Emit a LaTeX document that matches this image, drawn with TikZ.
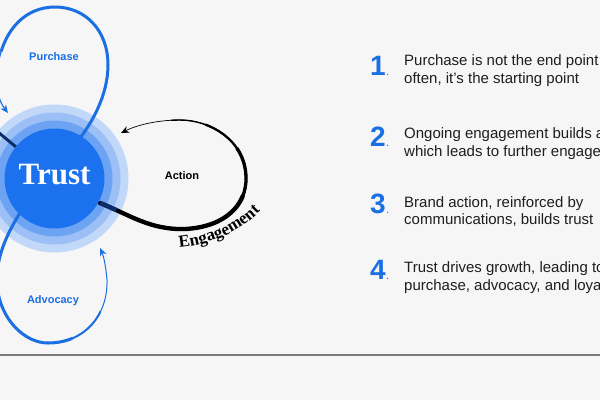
\documentclass[tikz,border=0pt]{standalone}
\usepackage{fontspec}
\setmainfont{Liberation Sans}
\newfontfamily\serifb{Liberation Serif}
\usetikzlibrary{arrows.meta,decorations.text}
\definecolor{bg}{HTML}{F6F6F6}
\definecolor{core}{HTML}{1C71EF}
\definecolor{ringA}{HTML}{C2D8F9}
\definecolor{ringB}{HTML}{9CC0F6}
\definecolor{ringC}{HTML}{6CA3F3}
\definecolor{lblue}{HTML}{1A6FE3}
\definecolor{navy}{HTML}{0C2D6B}
\definecolor{txtc}{HTML}{1E1E1E}
\definecolor{rulec}{HTML}{7A7A7A}
\tikzset{
  num/.style={text=lblue, font=\fontsize{28}{28}\selectfont\bfseries, inner sep=0pt, anchor=base west},
  numdot/.style={text=lblue, font=\fontsize{11}{11}\selectfont, inner sep=0pt, anchor=base west},
  body/.style={text=txtc, font=\fontsize{15}{18}\selectfont, inner sep=0pt, anchor=base west},
  lbl/.style={text=lblue, font=\fontsize{11}{11}\selectfont\bfseries, inner sep=0pt, anchor=base},
  rl/.style={line cap=round, line join=round},
  upto/.style={dash pattern=on #1pt off 2000pt},
  btip/.style={-{Stealth[length=8pt,width=7pt]}},
}
\newcommand{\actionpath}{(100,203) .. controls (130,215) and (150,230) .. (185,229)
  .. controls (225,227) and (247,205) .. (246,177)
  .. controls (245,140) and (210,120) .. (180,120)
  .. controls (155,120) and (135,126) .. (121,133)}
\newcommand{\advopath}{(25,205) .. controls (10,228) and (-5,255) .. (-3,285)
  .. controls (0,320) and (25,343) .. (48,343)
  .. controls (85,343) and (108,315) .. (107,280)
  .. controls (106,268) and (104,257) .. (100,248)}
\newcommand{\purchpath}{(72,148) .. controls (92,125) and (108,95) .. (108,65)
  .. controls (108,30) and (85,7) .. (55,7)
  .. controls (25,7) and (5,30) .. (-1,60)
  .. controls (-6,85) and (-2,100) .. (8,113)}
\begin{document}
\begin{tikzpicture}[x=1pt,y=-1pt]
\fill[bg] (0,0) rectangle (600,400);
\useasboundingbox (0,0) rectangle (600,400);
\clip (0,0) rectangle (600,400);

% rings
\coordinate (c) at (54.5,178.5);
\fill[ringA] (c) circle[radius=74pt];
\fill[ringB] (c) circle[radius=66pt];
\fill[ringC] (c) circle[radius=58pt];

% purchase loop
\draw[lblue, rl, line width=1.2pt, btip] \purchpath;
\draw[lblue, rl, line width=3pt, upto=255] \purchpath;

% advocacy loop
\draw[lblue, rl, line width=1pt, btip] \advopath;
\draw[lblue, rl, line width=2pt, upto=235] \advopath;
\draw[lblue, rl, line width=3pt, upto=195] \advopath;

% left dark stub
\draw[navy, line width=3pt] (-2,132) -- (16,147);

% action loop
\draw[black, rl, line width=0.7pt, btip] \actionpath;
\draw[black, rl, line width=1.4pt, upto=285] \actionpath;
\draw[black, rl, line width=2.3pt, upto=250] \actionpath;
\draw[black, rl, line width=3.3pt, upto=210] \actionpath;
\draw[black, rl, line width=4.3pt, upto=160] \actionpath;
\draw[navy, line width=4.3pt, upto=18] \actionpath;

% core
\fill[core] (c) circle[radius=50pt];
\node[font=\serifb\bfseries\fontsize{31}{31}\selectfont, text=white, inner sep=0pt] (trust) at (54.5,175) {Trust};

% labels
\node[lbl] (purchase) at (54,60) {Purchase};
\node[lbl] (advocacy) at (53,303) {Advocacy};
\node[lbl, text=black] (action) at (182,179) {Action};
\path[decorate, decoration={text along path, text align=center,
  text={|\serifb\bfseries\fontsize{17}{17}\selectfont|Engagement}}]
  (174,248) .. controls (206,246) and (240,234) .. (264,207);

% right list
\node[num] (n1) at (370,75) {1}; \node[numdot] (d1) at (n1.base east) {.};
\node[body] (t1a) at (404,65) {Purchase is not the end point};
\node[body] (t1b) at (404,83) {often, it’s the starting point};

\node[num] (n2) at (370,146) {2}; \node[numdot] (d2) at (n2.base east) {.};
\node[body] (t2a) at (404,138) {Ongoing engagement builds a};
\node[body] (t2b) at (404,156) {which leads to further engage};

\node[num] (n3) at (370,213) {3}; \node[numdot] (d3) at (n3.base east) {.};
\node[body] (t3a) at (404,207) {Brand action, reinforced by};
\node[body] (t3b) at (404,224) {communications, builds trust};

\node[num] (n4) at (370,279) {4}; \node[numdot] (d4) at (n4.base east) {.};
\node[body] (t4a) at (404,272) {Trust drives growth, leading to};
\node[body] (t4b) at (404,290) {purchase, advocacy, and loya};

% separator
\coordinate (ruleL) at (0,355);
\coordinate (ruleR) at (600,355);
\draw[rulec, line width=1.5pt] (ruleL) -- (ruleR);
\end{tikzpicture}
\end{document}
